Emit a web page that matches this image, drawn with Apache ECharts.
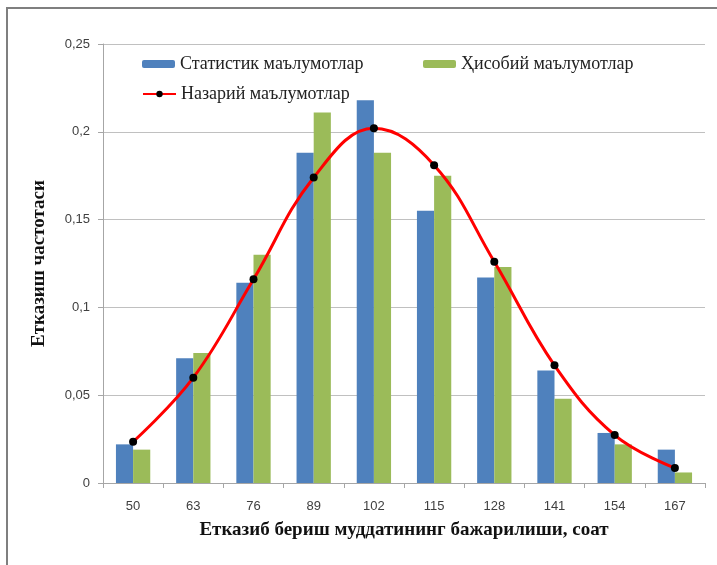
<!DOCTYPE html>
<html>
<head>
<meta charset="utf-8">
<script src="https://cdn.jsdelivr.net/npm/echarts@6/dist/echarts.min.js"></script>
<style>
  html, body { margin: 0; padding: 0; background: #fff; }
  #chart { width: 717px; height: 565px; }
</style>
</head>
<body>
<div id="chart"></div>
<script>
// Delivery-time classes (hours)
const categories = ['50', '63', '76', '89', '102', '115', '128', '141', '154', '167'];
// Observed frequencies
const statValues = [0.022, 0.071, 0.114, 0.188, 0.218, 0.155, 0.117, 0.064, 0.0285, 0.019];
// Computed frequencies
const calcValues = [0.019, 0.074, 0.130, 0.211, 0.188, 0.175, 0.123, 0.048, 0.022, 0.006];
// Theoretical curve
const theoryValues = [0.0235, 0.060, 0.116, 0.174, 0.202, 0.181, 0.126, 0.067, 0.0273, 0.0085];

const nameStat = 'Статистик маълумотлар';
const nameCalc = 'Ҳисобий маълумотлар';
const nameTheory = 'Назарий маълумотлар';

const serif = '"Liberation Serif", "DejaVu Serif", serif';
const sans = '"Liberation Sans", "DejaVu Sans", sans-serif';

const chart = echarts.init(document.getElementById('chart'), null, { renderer: 'canvas' });

const legendText = { fontFamily: serif, fontSize: 18, color: '#222' };

chart.setOption({
  animation: false,
  backgroundColor: '#fff',
  graphic: [{
    type: 'polyline',
    shape: { points: [[7, 565], [7, 8], [717, 8]] },
    style: { stroke: '#7f7f7f', lineWidth: 2, fill: null }
  }],
  grid: { left: 103, right: 12, top: 44, bottom: 82 },
  legend: [
    { data: [nameStat], left: 137, top: 50, itemWidth: 33, itemHeight: 8, textStyle: legendText },
    { data: [nameCalc], left: 418, top: 50, itemWidth: 33, itemHeight: 8, textStyle: legendText },
    { data: [nameTheory], left: 137, top: 80, itemWidth: 33, itemHeight: 8, textStyle: legendText }
  ],
  xAxis: {
    type: 'category',
    data: categories,
    name: 'Етказиб бериш муддатининг бажарилиши, соат',
    nameLocation: 'middle',
    nameGap: 38,
    nameTextStyle: { fontFamily: serif, fontSize: 19, fontWeight: 'bold', color: '#111' },
    axisLine: { lineStyle: { color: '#a6a6a6' } },
    axisTick: { show: true, alignWithLabel: false, length: 5, lineStyle: { color: '#a6a6a6' } },
    axisLabel: { fontFamily: sans, fontSize: 13, color: '#404040', margin: 17 }
  },
  yAxis: {
    type: 'value',
    min: 0,
    max: 0.25,
    interval: 0.05,
    name: 'Етказиш частотаси',
    nameLocation: 'middle',
    nameRotate: 90,
    nameGap: 54,
    nameTextStyle: { fontFamily: serif, fontSize: 19, fontWeight: 'bold', color: '#111' },
    axisLine: { show: true, lineStyle: { color: '#a6a6a6' } },
    axisTick: { show: true, length: 5, lineStyle: { color: '#a6a6a6' } },
    axisLabel: {
      fontFamily: sans, fontSize: 13, color: '#404040', margin: 13,
      formatter: v => String(Math.round(v * 100) / 100).replace('.', ',')
    },
    splitLine: { lineStyle: { color: '#c0c0c0', width: 1 } }
  },
  series: [
    {
      name: nameStat,
      type: 'bar',
      data: statValues,
      barGap: '0%',
      barCategoryGap: '43%',
      itemStyle: { color: '#4f81bd' }
    },
    {
      name: nameCalc,
      type: 'bar',
      data: calcValues,
      itemStyle: { color: '#9bbb59' }
    },
    {
      name: nameTheory,
      type: 'line',
      data: theoryValues,
      smooth: 0.4,
      symbol: 'circle',
      symbolSize: 8,
      z: 5,
      lineStyle: { color: '#ff0000', width: 3 },
      itemStyle: { color: '#000' }
    }
  ]
});
</script>
</body>
</html>
